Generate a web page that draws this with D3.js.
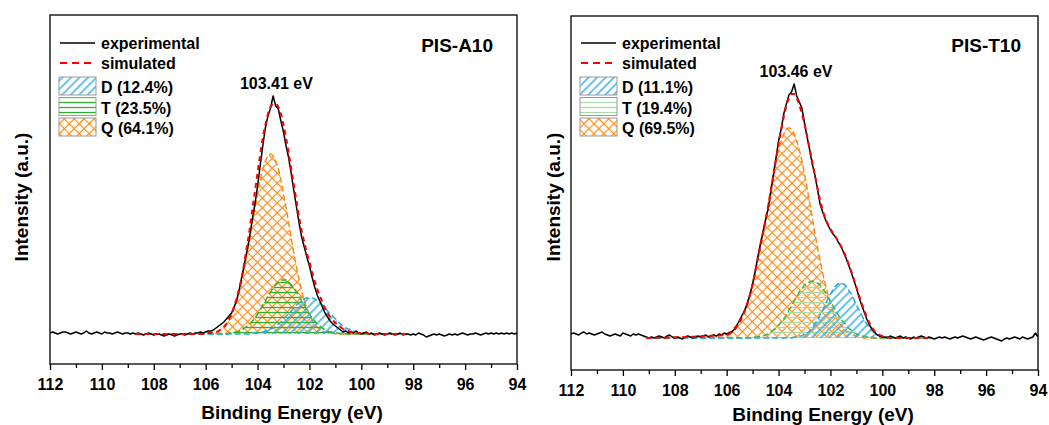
<!DOCTYPE html>
<html>
<head>
<meta charset="utf-8">
<script src="https://cdn.jsdelivr.net/npm/d3@7"></script>
<style>
  body { margin: 0; background: #fff; }
  svg { font-family: 'Liberation Sans', Arial, sans-serif; font-weight: bold; }
</style>
</head>
<body>
<div id="chart"></div>
<script>
// energy grid of the measured spectra (eV): 112.0 -> 94.0, 0.1 eV steps
var expEnergy = d3.range(1120, 939, -1).map(function (v) { return v / 10 })
// energy grid of the fitted peak window: 106.0 -> 99.5, 0.1 eV steps
var fitEnergy = d3.range(1060, 994, -1).map(function (v) { return v / 10 })

var xMajorTicks = [112, 110, 108, 106, 104, 102, 100, 98, 96, 94]
var xMinorTicks = [111, 109, 107, 105, 103, 101, 99, 97, 95]
var xTitle = 'Binding Energy (eV)'
var yTitle = 'Intensity (a.u.)'
var lineLegend = ['experimental', 'simulated']

// ---- PIS-A10 ----
var titleA10 = 'PIS-A10'
var peakA10 = 103.41
var peakLabelA10 = '103.41 eV'
var legendA10 = ['D (12.4%)', 'T (23.5%)', 'Q (64.1%)']
var bgA10 = 30
var fitRangeA10 = [108.7, 98.2]
var expA10 = [
  31, 32, 31, 30, 31, 32, 32, 31, 30, 31, 32, 31, 30, 31, 33, 31, 30, 31, 32, 31,
  30, 32, 31, 31, 30, 31, 32, 31, 30, 31, 31,
  30, 31, 30, 31, 30, 29, 30, 31, 30, 29, 30, 30, 29, 28, 29, 30, 29, 28, 29, 30,
  30, 29, 30, 31, 30, 31, 31, 32, 31,
  32, 33, 33, 34, 36, 38, 40, 42, 45, 48, 51, 57, 64, 75, 88, 101, 114, 128, 145, 160,
  178, 198, 218, 236, 248, 256, 268, 258, 255, 243, 232, 218, 206, 190, 173, 157, 141, 127, 117, 107,
  98, 87, 77, 69, 63, 57, 51, 47, 43, 40, 38, 36, 34, 32, 33, 31,
  32, 31, 33, 31, 30, 31, 32, 30, 31, 29, 30, 31, 30, 29, 30, 31, 30, 29, 30, 31,
  29, 30, 30, 29, 30, 29, 31, 30, 29, 27, 28, 29, 30, 29, 30, 29, 28, 29, 30, 29,
  30, 29, 30, 31, 30, 29, 30, 30, 31, 30, 29, 30, 31, 30, 31, 30, 31, 30, 31, 30,
  31, 30, 31, 30, 31
]
var simA10 = [
  30, 31, 31, 32, 32, 33, 35, 37, 40, 45, 50, 58, 66, 76, 88, 103, 119, 135, 155, 173,
  191, 209, 226, 239, 250, 257, 260, 260, 257, 250, 239, 226, 211, 195, 179, 163, 147, 133, 122, 111,
  102, 92, 83, 75, 68, 62, 56, 51, 47, 44, 41, 39, 37, 35, 34, 33, 32, 31, 31, 31,
  31, 31, 31, 30, 30, 30
]
var dA10 = [
  30, 30, 30, 30, 30, 30, 30, 30, 30, 30, 30, 30, 30, 30, 30, 30, 30, 30, 31, 31,
  31, 31, 32, 33, 34, 35, 36, 38, 40, 42, 45, 48, 50, 53, 56, 59, 61, 63, 65, 66,
  66, 66, 65, 63, 61, 59, 56, 53, 50, 48, 45, 42, 40, 38, 36, 35, 34, 33, 32, 31,
  31, 31, 31, 30, 30, 30
]
var tA10 = [
  30, 30, 30, 30, 30, 30, 30, 30, 30, 31, 31, 32, 32, 33, 34, 36, 38, 40, 43, 46,
  50, 54, 59, 63, 68, 72, 76, 79, 82, 84, 84, 84, 82, 79, 76, 72, 68, 63, 59, 54,
  50, 46, 43, 40, 38, 36, 34, 33, 32, 32, 31, 31, 30, 30, 30, 30, 30, 30, 30, 30,
  30, 30, 30, 30, 30, 30
]
var qA10 = [
  30, 31, 31, 32, 32, 33, 35, 37, 40, 44, 49, 56, 64, 73, 84, 97, 111, 125, 141, 156,
  170, 184, 195, 203, 208, 210, 208, 203, 195, 184, 170, 156, 141, 125, 111, 97, 84, 73, 64, 56,
  49, 44, 40, 37, 35, 33, 32, 32, 31, 31, 30, 30, 30, 30, 30, 30, 30, 30, 30, 30,
  30, 30, 30, 30, 30, 30
]

// ---- PIS-T10 ----
var titleT10 = 'PIS-T10'
var peakT10 = 103.46
var peakLabelT10 = '103.46 eV'
var legendT10 = ['D (11.1%)', 'T (19.4%)', 'Q (69.5%)']
var bgT10 = 32
var fitRangeT10 = [109.1, 98.1]
var expT10 = [
  36, 37, 36, 35, 37, 38, 36, 37, 36, 35, 36, 37, 38, 36, 35, 34, 35, 36, 35, 34,
  37, 36, 35, 34, 36, 35, 36, 35, 34, 33,
  32, 33, 32, 33, 34, 33, 32, 34, 35, 33, 32, 33, 32, 31, 33, 34, 33, 32, 33, 34,
  33, 34, 35, 33, 34, 35, 34, 36, 35, 37,
  36, 37, 38, 41, 45, 50, 55, 60, 67, 76, 86, 99, 113, 126, 138, 150, 161, 178, 195, 212,
  229, 241, 256, 266, 275, 278, 286, 274, 268, 262, 247, 233, 220, 206, 195, 181, 166, 158, 151, 145,
  140, 136, 133, 128, 124, 118, 112, 105, 98, 90, 82, 73, 65, 58, 51, 45, 41, 38, 35, 34,
  33,
  33, 32, 34, 33, 32, 33, 34, 32, 33, 32, 31, 33, 32, 33, 34, 33, 32, 33, 32, 31,
  32, 33, 32, 33, 32, 31, 32, 33, 32, 33, 34, 33, 32, 31, 32, 33, 32, 31, 30, 31,
  32, 33, 32, 31, 30, 29, 31, 32, 31, 32, 33, 32, 31, 33, 32, 31, 32, 33, 37, 33
]
var simT10 = [
  35, 36, 38, 40, 44, 48, 53, 59, 66, 75, 86, 98, 111, 124, 137, 150, 163, 178, 194, 210,
  226, 240, 253, 264, 272, 276, 276, 272, 265, 256, 246, 234, 221, 208, 195, 182, 170, 160, 152, 146,
  141, 137, 133, 129, 124, 119, 113, 106, 99, 91, 83, 75, 67, 60, 53, 47, 43, 39, 37, 35,
  34, 33, 33, 32, 32, 32
]
var dT10 = [
  32, 32, 32, 32, 32, 32, 32, 32, 32, 32, 32, 32, 32, 32, 32, 32, 32, 32, 32, 32,
  32, 32, 32, 32, 32, 32, 33, 33, 34, 34, 36, 37, 39, 42, 46, 50, 55, 60, 65, 71,
  76, 80, 84, 86, 87, 86, 84, 80, 76, 71, 65, 60, 55, 50, 46, 42, 39, 37, 36, 34,
  34, 33, 33, 32, 32, 32
]
var tT10 = [
  32, 32, 32, 32, 32, 32, 32, 32, 32, 32, 33, 33, 33, 34, 34, 35, 36, 38, 40, 42,
  45, 48, 51, 55, 60, 64, 69, 73, 78, 81, 85, 87, 88, 89, 88, 87, 85, 81, 78, 73,
  69, 64, 60, 55, 51, 48, 45, 42, 40, 38, 36, 35, 34, 34, 33, 33, 33, 32, 32, 32,
  32, 32, 32, 32, 32, 32
]
var qT10 = [
  36, 38, 39, 42, 45, 49, 54, 60, 68, 76, 86, 97, 110, 123, 137, 152, 167, 182, 196, 209,
  220, 229, 236, 241, 242, 241, 236, 229, 220, 209, 196, 182, 167, 152, 137, 123, 110, 97, 86, 76,
  68, 60, 54, 49, 45, 42, 39, 38, 36, 35, 34, 33, 33, 32, 32, 32, 32, 32, 32, 32,
  32, 32, 32, 32, 32, 32
]

var W = 1049
var H = 425

var svg = d3.select('#chart').append('svg')
  .attr('width', W)
  .attr('height', H)

var defs = svg.append('defs')

function hatch (id, size, angle, lines, color, width) {
  var p = defs.append('pattern')
    .attr('id', id)
    .attr('patternUnits', 'userSpaceOnUse')
    .attr('width', size)
    .attr('height', size)
    .attr('patternTransform', 'rotate(' + angle + ')')
  lines.forEach(function (l) {
    if (l === 'v') {
      p.append('line').attr('x1', size / 2).attr('y1', 0).attr('x2', size / 2).attr('y2', size)
        .attr('stroke', color).attr('stroke-width', width)
    } else {
      p.append('line').attr('x1', 0).attr('y1', size / 2).attr('x2', size).attr('y2', size / 2)
        .attr('stroke', color).attr('stroke-width', width)
    }
  })
}

hatch('patD', 6, 45, ['v'], '#29abe2', 1.4)
hatch('patTA', 5, 0, ['h'], '#2fb02f', 1.3)
hatch('patTT', 5, 0, ['h'], '#a6dca6', 1.2)
hatch('patQ', 7, 45, ['v', 'h'], '#ff8c1a', 1.2)

function draw_panel (p) {
  var x = d3.scaleLinear().domain([112, 94]).range([p.x0, p.x1])
  var y = d3.scaleLinear().domain([0, p.yMax]).range([p.y1, p.y0])
  var g = svg.append('g')

  var area = d3.area()
    .x(function (d) { return x(d[0]) })
    .y0(y(p.bg))
    .y1(function (d) { return y(d[1]) })
    .curve(d3.curveMonotoneX)
  var line = d3.line()
    .x(function (d) { return x(d[0]) })
    .y(function (d) { return y(d[1]) })

  function withRange (values) {
    return [[p.fitRange[0], p.bg]]
      .concat(fitEnergy.map(function (e, i) { return [e, values[i]] }))
      .concat([[p.fitRange[1], p.bg]])
  }

  // fitted components, Q underneath, then T, then D
  p.comps.slice().reverse().forEach(function (c) {
    var pts = withRange(c.values)
    g.append('path').attr('d', area(pts)).attr('fill', 'url(#' + c.pattern + ')')
    g.append('path').attr('d', line.curve(d3.curveMonotoneX)(pts))
      .attr('fill', 'none')
      .attr('stroke', c.color)
      .attr('stroke-width', 1.5)
      .attr('stroke-dasharray', '6,3')
  })

  // experimental spectrum
  g.append('path')
    .attr('d', line.curve(d3.curveLinear)(expEnergy.map(function (e, i) { return [e, p.exp[i]] })))
    .attr('fill', 'none')
    .attr('stroke', '#000')
    .attr('stroke-width', 1.5)
    .attr('stroke-linejoin', 'round')

  // simulated envelope
  g.append('path')
    .attr('d', line.curve(d3.curveMonotoneX)(withRange(p.sim)))
    .attr('fill', 'none')
    .attr('stroke', '#ff0000')
    .attr('stroke-width', 2)
    .attr('stroke-dasharray', '5,4')

  // frame
  g.append('rect')
    .attr('x', p.x0).attr('y', p.y0)
    .attr('width', p.x1 - p.x0).attr('height', p.y1 - p.y0)
    .attr('fill', 'none').attr('stroke', '#000').attr('stroke-width', 1.3)

  // bottom axis
  var major = g.append('g').attr('transform', 'translate(0,' + p.y1 + ')')
    .call(d3.axisBottom(x).tickValues(xMajorTicks).tickSize(6).tickPadding(p.tickPad).tickFormat(d3.format('d')))
  var minor = g.append('g').attr('transform', 'translate(0,' + p.y1 + ')')
    .call(d3.axisBottom(x).tickValues(xMinorTicks).tickSize(4).tickFormat(''))
  ;[major, minor].forEach(function (a) {
    a.select('.domain').remove()
    a.selectAll('line').attr('stroke', '#000').attr('stroke-width', 1.3)
  })
  major.selectAll('text')
    .attr('fill', '#000')
    .style('font-size', '16px')
    .style('font-family', "'Liberation Sans', Arial, sans-serif")
    .style('font-weight', 'bold')

  g.append('text')
    .attr('x', p.xTitleX).attr('y', p.xTitleY)
    .attr('text-anchor', 'middle')
    .style('font-size', '19px')
    .text(xTitle)

  g.append('text')
    .attr('transform', 'translate(' + p.yTitleX + ',' + p.yTitleY + ') rotate(-90)')
    .attr('text-anchor', 'middle')
    .style('font-size', '19px')
    .text(yTitle)

  // sample name
  g.append('text')
    .attr('x', p.nameX).attr('y', 52)
    .attr('text-anchor', 'end')
    .style('font-size', '19px')
    .text(p.name)

  // peak position label
  g.append('text')
    .attr('x', x(p.peak) + 3.5).attr('y', y(d3.max(p.exp)) - 7)
    .attr('text-anchor', 'middle')
    .style('font-size', '16px')
    .text(p.peakLabel)

  // legend
  var lx = p.x0 + 10
  var tx = p.x0 + 51
  g.append('line').attr('x1', lx).attr('x2', lx + 35).attr('y1', 43).attr('y2', 43)
    .attr('stroke', '#000').attr('stroke-width', 1.6)
  g.append('line').attr('x1', lx).attr('x2', lx + 35).attr('y1', 63).attr('y2', 63)
    .attr('stroke', '#ff0000').attr('stroke-width', 2).attr('stroke-dasharray', '7,5')
  lineLegend.forEach(function (t, i) {
    g.append('text').attr('x', tx).attr('y', 49 + i * 20).style('font-size', '16px').text(t)
  })
  p.comps.forEach(function (c, i) {
    var top = 77 + i * 20.5
    g.append('rect').attr('x', lx - 1).attr('y', top).attr('width', 37).attr('height', 18)
      .attr('fill', 'url(#' + c.pattern + ')')
      .attr('stroke', '#999').attr('stroke-width', 1)
    g.append('text').attr('x', tx).attr('y', top + 16).style('font-size', '16px').text(p.legend[i])
  })
}

draw_panel({
  x0: 50, x1: 517, y0: 15, y1: 364, yMax: 349,
  tickPad: 8.5, xTitleX: 292, xTitleY: 419, yTitleX: 27.5, yTitleY: 197, nameX: 493,
  name: titleA10, peak: peakA10, peakLabel: peakLabelA10, legend: legendA10,
  bg: bgA10, fitRange: fitRangeA10, exp: expA10, sim: simA10,
  comps: [
    { values: dA10, pattern: 'patD', color: '#29abe2' },
    { values: tA10, pattern: 'patTA', color: '#2fb02f' },
    { values: qA10, pattern: 'patQ', color: '#ff8c1a' }
  ]
})

draw_panel({
  x0: 571, x1: 1038, y0: 16, y1: 370, yMax: 354,
  tickPad: 9, xTitleX: 823, xTitleY: 421, yTitleX: 560, yTitleY: 197, nameX: 1021,
  name: titleT10, peak: peakT10, peakLabel: peakLabelT10, legend: legendT10,
  bg: bgT10, fitRange: fitRangeT10, exp: expT10, sim: simT10,
  comps: [
    { values: dT10, pattern: 'patD', color: '#29abe2' },
    { values: tT10, pattern: 'patTT', color: '#3cb83c' },
    { values: qT10, pattern: 'patQ', color: '#ff8c1a' }
  ]
})
</script>
</body>
</html>
